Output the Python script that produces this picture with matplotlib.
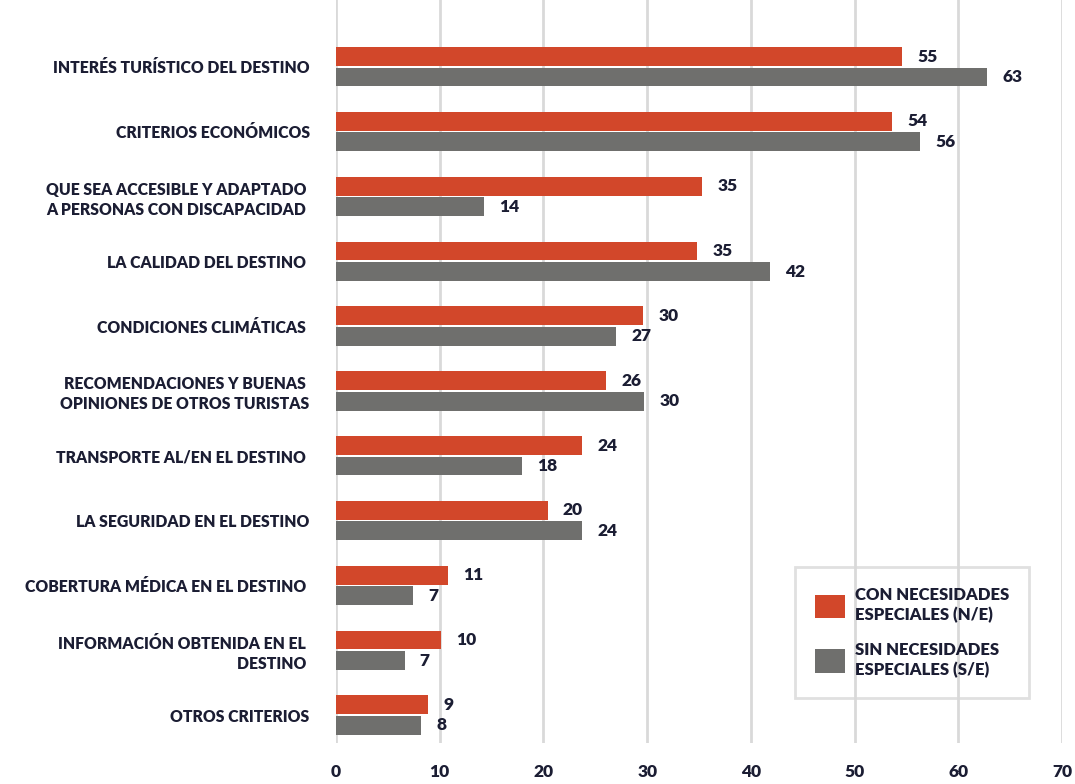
import numpy as np
import matplotlib.pyplot as plt
from matplotlib.patches import Patch

categorias = [
    'INTERÉS TURÍSTICO DEL DESTINO',
    'CRITERIOS ECONÓMICOS',
    'QUE SEA ACCESIBLE Y ADAPTADO \nA PERSONAS CON DISCAPACIDAD ',
    'LA CALIDAD DEL DESTINO ',
    'CONDICIONES CLIMÁTICAS ',
    'RECOMENDACIONES Y BUENAS \nOPINIONES DE OTROS TURISTAS',
    'TRANSPORTE AL/EN EL DESTINO ',
    'LA SEGURIDAD EN EL DESTINO',
    'COBERTURA MÉDICA EN EL DESTINO ',
    'INFORMACIÓN OBTENIDA EN EL \nDESTINO ',
    'OTROS CRITERIOS',
]
con_ne = [54.6, 53.6, 35.3, 34.8, 29.6, 26.0, 23.7, 20.4, 10.8, 10.1, 8.9]
sin_ne = [62.8, 56.3, 14.3, 41.8, 27.0, 29.7, 17.9, 23.7, 7.4, 6.6, 8.2]
serie_labels = ['CON NECESIDADES\nESPECIALES (N/E)', 'SIN NECESIDADES\nESPECIALES (S/E)']

rojo = '#D2472A'
gris = '#6F6F6D'
texto = '#1B1D33'
rejilla = '#D9D9D9'

plt.rcParams['font.family'] = ['Lato', 'DejaVu Sans']
peso = 'heavy'

fig = plt.figure(figsize=(10.75, 7.84), dpi=100)
ax = fig.add_axes([0.3126, 0.0523, 0.6754, 0.9477])

y = np.arange(len(categorias))
h = 0.29
b1 = ax.barh(y - 0.158, con_ne, height=h, color=rojo, zorder=3)
b2 = ax.barh(y + 0.158, sin_ne, height=h, color=gris, zorder=3)

for bars in (b1, b2):
    for r in bars:
        ax.annotate(f'{round(r.get_width())}', (r.get_width(), r.get_y() + r.get_height() / 2),
                    xytext=(11, 0), textcoords='offset points', ha='left', va='center',
                    fontsize=12.5, fontweight=peso, color=texto)

ax.set_xlim(0, 70)
ax.set_ylim(10.43, -1.03)
ax.set_xticks(range(0, 71, 10))
ax.set_xticklabels([str(v) for v in range(0, 71, 10)], fontweight=peso)
ax.set_yticks(y)
ax.set_yticklabels(categorias, fontsize=11.3, fontweight=peso, color=texto, linespacing=1.3)
ax.tick_params(axis='x', length=0, pad=15, labelsize=12.5, labelcolor=texto)
ax.tick_params(axis='y', length=0, pad=19)
ax.grid(axis='x', color=rejilla, linewidth=2, zorder=0)
for s in ax.spines.values():
    s.set_visible(False)

handles = [Patch(facecolor=rojo), Patch(facecolor=gris)]
leg = ax.legend(handles, serie_labels, loc='upper left', bbox_to_anchor=(795 / 1075, 1 - 567 / 784),
                bbox_transform=fig.transFigure, frameon=True, fancybox=False,
                prop={'size': 12, 'weight': peso},
                edgecolor=rejilla, facecolor='none', framealpha=None, handlelength=1.8, handleheight=1.8,
                labelspacing=1.1, borderpad=1.2, handletextpad=0.6, borderaxespad=0)
leg.get_frame().set_linewidth(2)
for t in leg.get_texts():
    t.set_color(texto)
    t.set_linespacing(1.3)

plt.savefig('out.png', dpi=100)
